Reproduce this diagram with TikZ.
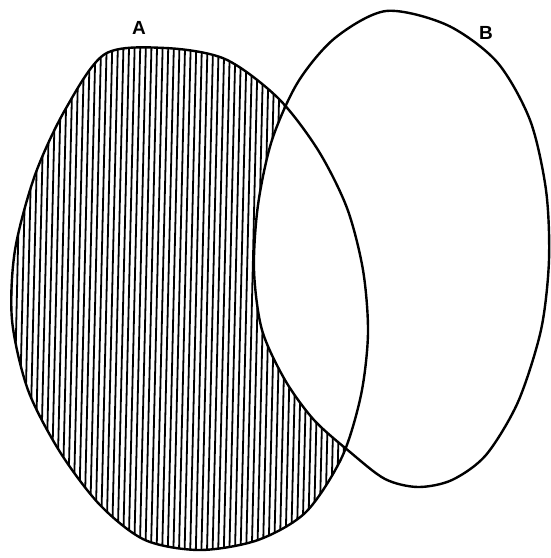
\documentclass[tikz,border=0pt]{standalone}
\usepackage{fontspec}
\setmainfont{Liberation Sans}
\usetikzlibrary{calc}

\begin{document}
\begin{tikzpicture}[x=1pt,y=-1pt,outline/.style={line width=2.4pt,line join=round},hatch/.style={line width=1.8pt},setlabel/.style={font=\fontsize{19}{21}\selectfont\bfseries}]
\useasboundingbox (0,0) rectangle (550,558);
\def\setA{plot[smooth cycle,tension=0.5] coordinates {(105,54) (165,48) (225,59) (278,98) (318,150) (347,208) (363,270) (368,333) (361,395) (342,457) (306,512) (258,540) (200,550) (145,540) (100,505) (60,452) (28,390) (12,320) (15,250) (35,175) (65,110)}}
\def\setB{plot[smooth cycle,tension=0.5] coordinates {(386,11) (447,25) (497,62) (530,120) (546,190) (549,260) (541,330) (518,402) (486,455) (452,480) (418,487) (385,479) (350,452) (314,420) (285,380) (262,330) (254,270) (258,205) (272,140) (298,82) (335,38)}}
% hatching of A
\begin{scope}
\clip \setA;
\foreach \x in {0,5.6,...,400} \draw[hatch] (\x+6,40) -- (\x-6,560);
\end{scope}
\fill[white] \setB;
\draw[outline] \setA;
\draw[outline] \setB;
\node[setlabel] (labA) at (139,28) {A};
\node[setlabel] (labB) at (486,33) {B};
\end{tikzpicture}
\end{document}
